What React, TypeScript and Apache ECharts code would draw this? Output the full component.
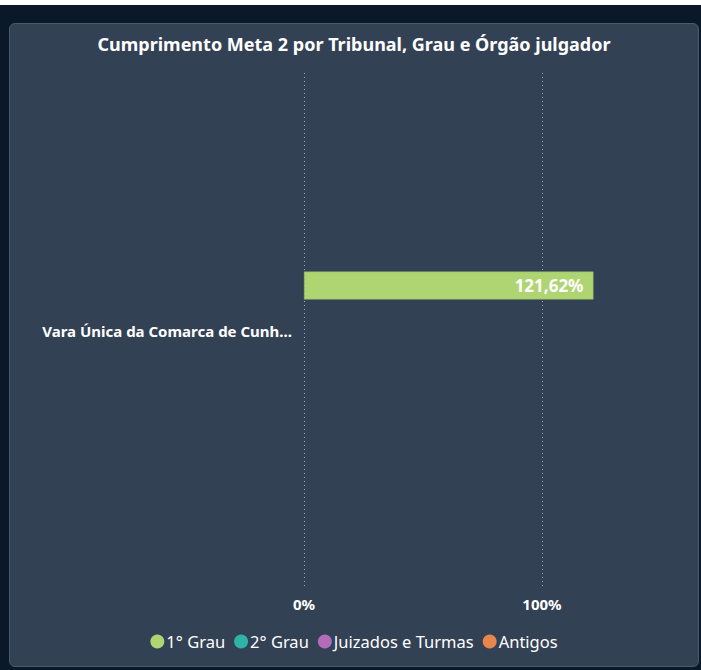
import React, { useEffect, useRef } from "react";
import * as echarts from "echarts";

const categories: string[] = ["Vara Única da Comarca de Cunha Porã"];
const seriesNames: string[] = ["1° Grau", "2° Grau", "Juizados e Turmas", "Antigos"];
const grau1: (number | null)[] = [121.62];
const grau2: (number | null)[] = [];
const juizados: (number | null)[] = [];
const antigos: (number | null)[] = [];
const seriesColors: string[] = ["#afd572", "#2fb3a6", "#b46cb8", "#e8874b"];

const FONT = "'Noto Sans', 'Open Sans', sans-serif";

export default function App() {
  const ref = useRef<HTMLDivElement>(null);
  useEffect(() => {
    if (!ref.current) return;
    const chart = echarts.init(ref.current, undefined, { renderer: "svg" });
    const datas = [grau1, grau2, juizados, antigos];
    chart.setOption({
      animation: false,
      backgroundColor: "transparent",
      textStyle: { fontFamily: FONT },
      title: {
        text: "Cumprimento Meta 2 por Tribunal, Grau e Órgão julgador",
        left: "center",
        top: 6,
        textStyle: { color: "#ffffff", fontSize: 18, fontWeight: "bold", fontFamily: FONT },
      },
      legend: {
        data: seriesNames,
        bottom: 11,
        left: "center",
        icon: "circle",
        itemWidth: 14,
        itemHeight: 14,
        itemGap: 9,
        itemStyle: { borderWidth: 0 },
        textStyle: { color: "#ffffff", fontSize: 16.5, fontFamily: FONT, padding: [0, 0, 0, -3] },
      },
      grid: { left: 294, top: 49, width: 238, height: 515, containLabel: false },
      xAxis: {
        type: "value",
        min: 0,
        max: 100,
        interval: 100,
        axisLine: { show: false },
        axisTick: { show: false },
        splitLine: { show: true, lineStyle: { type: [1, 3], color: "#9aa6b6", width: 1 } },
        axisLabel: {
          color: "#ffffff",
          fontWeight: "bold",
          fontSize: 15,
          margin: 8,
          fontFamily: FONT,
          formatter: (v: number) => `${v}%`,
        },
      },
      yAxis: {
        type: "category",
        data: categories,
        axisLine: { show: false },
        axisTick: { show: false },
        axisLabel: {
          color: "#ffffff",
          fontWeight: "bold",
          fontSize: 15,
          margin: 12,
          width: 251,
          overflow: "truncate",
          ellipsis: "...",
          fontFamily: FONT,
        },
      },
      series: seriesNames.map((name, i) => ({
        name,
        type: "bar",
        data: datas[i],
        barWidth: 28,
        barGap: "7%",
        clip: false,
        itemStyle: { color: seriesColors[i], borderColor: "#8fb35a", borderWidth: i === 0 ? 0.5 : 0 },
        label: {
          show: true,
          position: "insideRight",
          color: "#ffffff",
          fontWeight: "bold",
          fontSize: 17,
          distance: 10,
          fontFamily: FONT,
          formatter: (p: any) => `${Number(p.value).toFixed(2).replace(".", ",")}%`,
        },
      })),
    });
    return () => chart.dispose();
  }, []);

  return (
    <div style={{ position: "fixed", left: 0, top: 0, width: 701, height: 670, background: "#0b1829", overflow: "hidden" }}>
      <div style={{ position: "absolute", left: 0, top: 0, width: 701, height: 5, background: "#ffffff" }} />
      <div
        style={{
          position: "absolute",
          left: 9,
          top: 23,
          width: 690,
          height: 644,
          boxSizing: "border-box",
          background: "#334155",
          border: "1px solid #4a5a6e",
          borderRadius: 6,
        }}
      >
        <div ref={ref} style={{ position: "absolute", left: 0, top: 0, width: 688, height: 642 }} />
      </div>
    </div>
  );
}
